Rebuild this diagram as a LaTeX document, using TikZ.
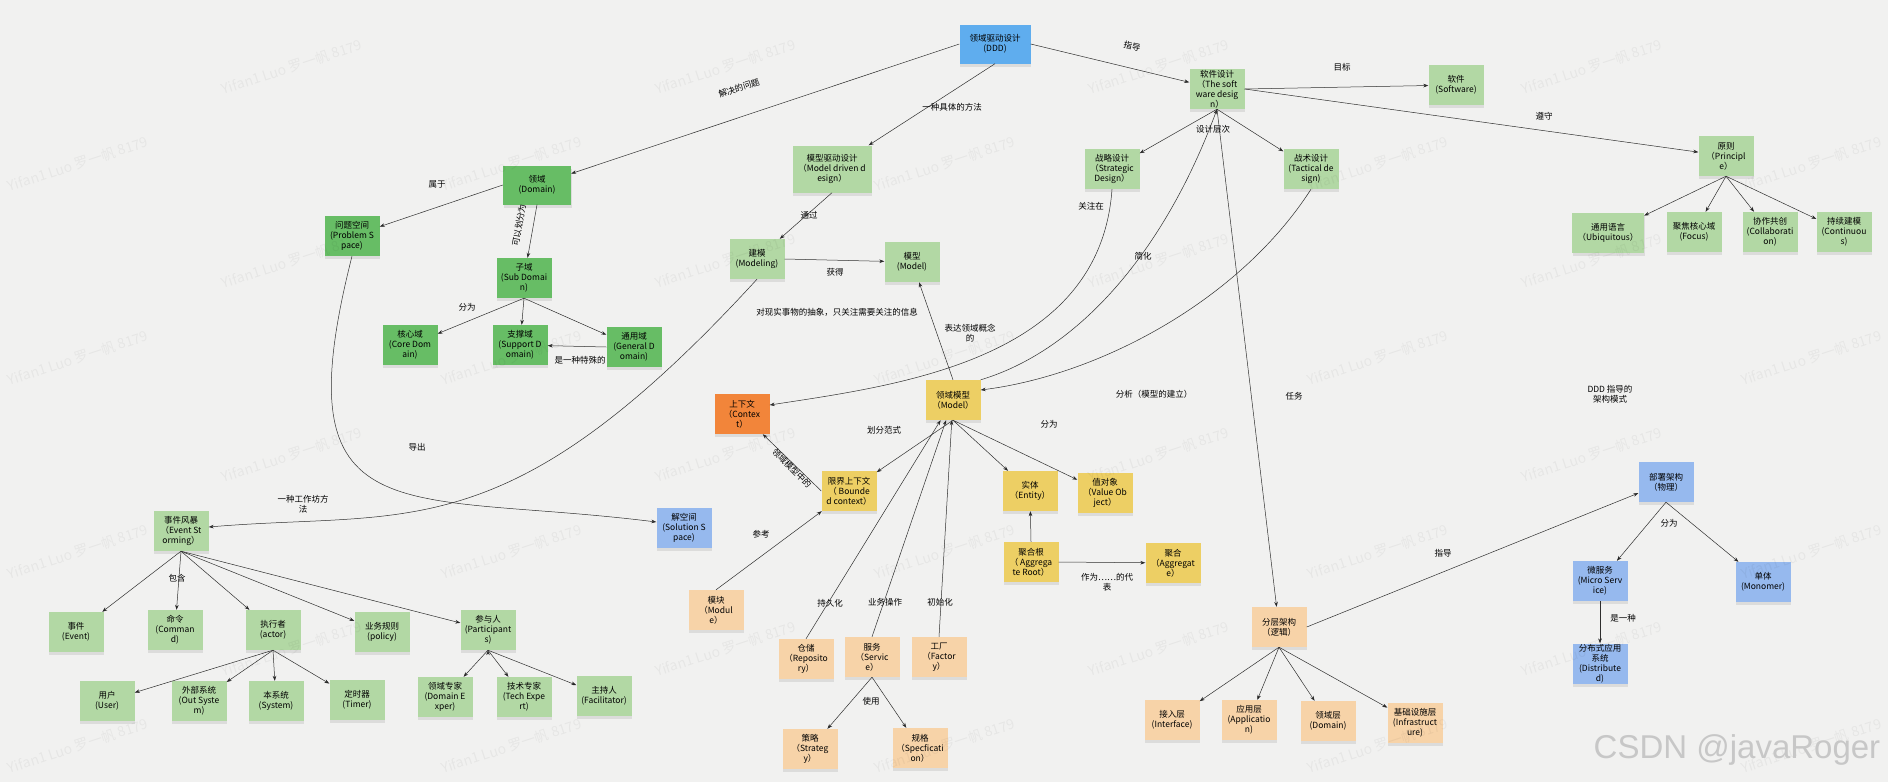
\documentclass[tikz,border=0pt]{standalone}
\usepackage{fontspec}
\setmainfont{Noto Sans CJK SC}
\newfontfamily\wmfont{Liberation Sans}
\usetikzlibrary{
    arrows.meta,
    shadows
}
\definecolor{bgcol}{HTML}{F1F1F0}
\definecolor{linecol}{HTML}{2E2E2E}
\definecolor{dgreencol}{HTML}{67BD65}
\definecolor{lgreencol}{HTML}{B2D8A4}
\definecolor{dddcol}{HTML}{5FADEE}
\definecolor{lbluecol}{HTML}{96B9EE}
\definecolor{orangecol}{HTML}{F2853A}
\definecolor{yellowcol}{HTML}{EDCF64}
\definecolor{peachcol}{HTML}{F7D3A8}
\tikzset{
    >={Stealth[length=5pt,width=3.6pt]},
    box/.style={
        minimum width=55pt,
        minimum height=40pt,
        inner sep=1pt,
        align=center,
        font=\fontsize{8.5}{10}\selectfont,
        drop shadow={shadow xshift=0.6pt, shadow yshift=-3pt, opacity=.18}
    },
    dgreen/.style={box, fill=dgreencol},
    lgreen/.style={box, fill=lgreencol},
    dddbox/.style={box, fill=dddcol},
    lblue/.style={box, fill=lbluecol},
    orangebox/.style={box, fill=orangecol},
    yellow/.style={box, fill=yellowcol},
    peach/.style={box, fill=peachcol},
    lbl/.style={
        font=\fontsize{8.5}{10}\selectfont,
        align=center,
        inner sep=0pt
    },
    conn/.style={->, draw=linecol, line width=.5pt},
    wmark/.style={
        font=\fontsize{14}{14}\selectfont,
        text=black,
        opacity=.045,
        rotate=18
    }
}

\begin{document}
\begin{tikzpicture}[
    x=1pt, y=-1pt,
    >={Stealth[length=5pt,width=3.6pt]}
]

    % Fondo
    \fill[bgcol] (0,0) rectangle (1888,782);
    \useasboundingbox (0,0) rectangle (1888,782);

    % Raiz
    \node[dddbox, minimum width=71pt, minimum height=39pt] (ddd) at (995,44) {领域驱动设计\\(DDD)};

    % Diseno de software
    \node[lgreen] (sw)   at (1217,89)  {软件设计\\（The soft\\ware desig\\n）};
    \node[lgreen] (soft) at (1456,85)  {软件\\(Software)};
    \node[lgreen] (pri)  at (1726,156) {原则\\（Principl\\e）};
    \node[lgreen, minimum width=72pt] (ubi) at (1608,233) {通用语言\\（Ubiquitous）};
    \node[lgreen] (foc)  at (1694,232) {聚焦核心域\\(Focus)};
    \node[lgreen] (col)  at (1770,232) {协作共创\\(Collaborati\\on)};
    \node[lgreen] (con)  at (1844,232) {持续建模\\(Continuou\\s)};
    \node[lgreen] (stg)  at (1112,169) {战略设计\\（Strategic\\Design）};
    \node[lgreen] (tac)  at (1311,169) {战术设计\\(Tactical de\\sign)};

    % Dominio
    \node[dgreen, minimum width=68pt, minimum height=39pt] (dom) at (537,185) {领域\\(Domain)};
    \node[dgreen] (ps)   at (352,236)  {问题空间\\(Problem S\\pace)};
    \node[dgreen] (sd)   at (524,278)  {子域\\(Sub Domai\\n)};
    \node[dgreen] (core) at (410,345)  {核心域\\(Core Dom\\ain)};
    \node[dgreen] (sup)  at (520,345)  {支撑域\\(Support D\\omain)};
    \node[dgreen] (gen)  at (634,347)  {通用域\\(General D\\omain)};

    % Diseno dirigido por modelos
    \node[lgreen, minimum width=79pt, minimum height=47pt] (mdd) at (832,169) {模型驱动设计\\（Model driven d\\esign）};
    \node[lgreen] (mdl)  at (757,259)  {建模\\(Modeling)};
    \node[lgreen] (gm)   at (912,262)  {模型\\(Model)};

    % Modelo de dominio
    \node[yellow]    (dm)   at (953,400)  {领域模型\\（Model）};
    \node[orangebox] (ctx)  at (742,414)  {上下文\\（Contex\\t）};
    \node[yellow]    (bc)   at (849,491)  {限界上下文\\（ Bounde\\d context）};
    \node[lblue]     (sol)  at (684,528)  {解空间\\(Solution S\\pace)};
    \node[yellow]    (ent)  at (1030,491) {实体\\（Entity）};
    \node[yellow]    (vo)   at (1105,493) {值对象\\（Value Ob\\ject）};
    \node[yellow]    (agr)  at (1031,562) {聚合根\\（ Aggrega\\te Root）};
    \node[yellow]    (agg)  at (1173,563) {聚合\\（Aggregat\\e）};

    % Bloques tacticos
    \node[peach] (mod)  at (716,610) {模块\\（Modul\\e）};
    \node[peach] (repo) at (806,659) {仓储\\（Reposito\\ry）};
    \node[peach] (svc)  at (872,657) {服务\\（Servic\\e）};
    \node[peach] (fac)  at (939,657) {工厂\\（Factor\\y）};
    \node[peach] (str)  at (810,749) {策略\\（Strateg\\y）};
    \node[peach] (spec) at (920,748) {规格\\（Specficati\\on）};

    % Arquitectura
    \node[peach] (la)  at (1279,627) {分层架构\\（逻辑）};
    \node[peach] (ifc) at (1172,720) {接入层\\(Interface)};
    \node[peach] (app) at (1249,720) {应用层\\(Applicatio\\n)};
    \node[peach] (dl)  at (1328,721) {领域层\\(Domain)};
    \node[peach] (inf) at (1415,723) {基础设施层\\(Infrastruct\\ure)};
    \node[lblue] (dep)  at (1666,482) {部署架构\\（物理）};
    \node[lblue] (ms)   at (1600,581) {微服务\\(Micro Serv\\ice)};
    \node[lblue] (mono) at (1763,582) {单体\\(Monomer)};
    \node[lblue] (dist) at (1600,664) {分布式应用\\系统\\(Distribute\\d)};

    % Event Storming
    \node[lgreen] (es)   at (181,531) {事件风暴\\（Event St\\orming）};
    \node[lgreen] (ev)   at (76,632)  {事件\\(Event)};
    \node[lgreen] (cmd)  at (175,630) {命令\\(Comman\\d)};
    \node[lgreen] (act)  at (273,630) {执行者\\(actor)};
    \node[lgreen] (pol)  at (382,632) {业务规则\\(policy)};
    \node[lgreen] (par)  at (488,630) {参与人\\(Participant\\s)};
    \node[lgreen] (usr)  at (107,701) {用户\\(User)};
    \node[lgreen] (out)  at (199,701) {外部系统\\(Out Syste\\m)};
    \node[lgreen] (sys)  at (276,701) {本系统\\(System)};
    \node[lgreen] (tim)  at (357,700) {定时器\\(Timer)};
    \node[lgreen] (dex)  at (445,697) {领域专家\\(Domain E\\xper)};
    \node[lgreen] (tex)  at (524,697) {技术专家\\(Tech Expe\\rt)};
    \node[lgreen] (host) at (604,696) {主持人\\(Facilitator)};

    % Conectores rectos
    \path[conn]

        % Desde DDD
        (ddd.west)  edge (dom)
        (ddd.south) edge (mdd)
        (ddd.east)  edge (sw)

        % Diseno de software
        (sw.east)  edge (soft)
                   edge (pri)
        (sw.south) edge (stg)
                   edge (tac)
                   edge (la)
        (pri.south) edge (ubi)
                    edge (foc)
                    edge (col)
                    edge (con)

        % Dominio
        (dom.west)  edge (ps)
        (dom.south) edge (sd)
        (sd.south)  edge (core)
                    edge (sup)
                    edge (gen)
        (gen.west)  edge (sup)

        % Modelado
        (mdd.south) edge (mdl)
        (mdl.east)  edge (gm)
        (dm.north)  edge (gm)

        % Modelo de dominio
        (dm.south)  edge (bc)
                    edge (ent)
                    edge (vo)
        (bc.west)   edge (ctx)
        (mod.north) edge (bc)
        (repo.north) edge (dm)
        (svc.north) edge (dm)
        (fac.north) edge (dm)
        (agr.north) edge (ent)
        (agr.east)  edge (agg)
        (svc.south) edge (str)
                    edge (spec)

        % Arquitectura
        (la.south) edge (ifc)
                   edge (app)
                   edge (dl)
                   edge (inf)
        (la.east)  edge (dep)
        (dep.south) edge (ms)
                    edge (mono)
        (ms.south)  edge (dist)

        % Event Storming
        (es.south) edge (ev)
                   edge (cmd)
                   edge (act)
                   edge (pol)
                   edge (par)
        (act.south) edge (usr)
                    edge (out)
                    edge (sys)
                    edge (tim)
        (par.south) edge (dex)
                    edge (tex)
                    edge (host);

    % Conectores curvos
    \draw[conn] (stg.south) .. controls (1100,360) and (900,385) .. ([yshift=9pt]ctx.east);
    \draw[conn] (dm.north east) .. controls (1080,350) and (1165,250) .. (sw.south);
    \draw[conn] (tac.south) .. controls (1240,300) and (1100,375) .. ([yshift=10pt]dm.east);
    \draw[conn] (mdl.south) .. controls (507,552) and (410,510) .. ([yshift=4pt]es.east);
    \draw[conn] (ps.south) .. controls (280,540) and (400,490) .. ([yshift=6pt]sol.west);

    % Etiquetas
    \node[lbl, rotate=18]  (lSolve)  at (739,88)   {解决的问题};
    \node[lbl]             (lMethod) at (952,107)  {一种具体的方法};
    \node[lbl, rotate=-13] (lGuide)  at (1132,46)  {指导};
    \node[lbl]             (lGoal)   at (1342,67)  {目标};
    \node[lbl]             (lFollow) at (1544,116) {遵守};
    \node[lbl]             (lLevel)  at (1213,129) {设计层次};
    \node[lbl]             (lFocus)  at (1091,206) {关注在};
    \node[lbl]             (lSimp)   at (1143,256) {简化};
    \node[lbl]             (lBelong) at (437,184)  {属于};
    \node[lbl, rotate=80]  (lSplit)  at (519,225)  {可以划分为};
    \node[lbl]             (lDivA)   at (467,307)  {分为};
    \node[lbl]             (lSpec)   at (580,360)  {是一种特殊的};
    \node[lbl]             (lVia)    at (809,215)  {通过};
    \node[lbl]             (lGet)    at (835,272)  {获得};
    \node[lbl]             (lAbs)    at (837,312)  {对现实事物的抽象，只关注需要关注的信息};
    \node[lbl]             (lExpr)   at (970,333)  {表达领域概念\\的};
    \node[lbl]             (lAnal)   at (1154,394) {分析（模型的建立）};
    \node[lbl]             (lTask)   at (1294,396) {任务};
    \node[lbl]             (lArch)   at (1610,394) {DDD 指导的\\架构模式};
    \node[lbl]             (lDerive) at (417,447)  {导出};
    \node[lbl]             (lWork)   at (303,504)  {一种工作坊方\\法};
    \node[lbl]             (lHas)    at (177,578)  {包含};
    \node[lbl]             (lPart)   at (884,430)  {划分范式};
    \node[lbl, rotate=-45] (lInDm)   at (792,468)  {领域模型中的};
    \node[lbl]             (lRef)    at (761,534)  {参考};
    \node[lbl]             (lPers)   at (830,603)  {持久化};
    \node[lbl]             (lOp)     at (885,602)  {业务操作};
    \node[lbl]             (lInit)   at (940,602)  {初始化};
    \node[lbl]             (lDivB)   at (1049,424) {分为};
    \node[lbl]             (lRep)    at (1107,582) {作为……的代\\表};
    \node[lbl]             (lUse)    at (871,701)  {使用};
    \node[lbl]             (lGuideB) at (1443,553) {指导};
    \node[lbl]             (lDivC)   at (1669,523) {分为};
    \node[lbl]             (lIsA)    at (1623,618) {是一种};

    % Marcas de agua
    \foreach \r in {0,...,7}{
        \pgfmathtruncatemacro\kmax{ifthenelse(isodd(\r),4,3)}
        \foreach \k in {0,...,\kmax}{
            \pgfmathsetmacro\wx{ifthenelse(isodd(\r),78,292)+433.3*\k}
            \pgfmathsetmacro\wy{67+97*\r}
            \node[wmark] (wm-\r-\k) at (\wx,\wy) {Yifan1 Luo 罗一帆 8179};
        }
    }
    \node[font=\wmfont\fontsize{33}{33}\selectfont, text=black!22] (csdn) at (1737,750) {CSDN @javaRoger};

\end{tikzpicture}
\end{document}
